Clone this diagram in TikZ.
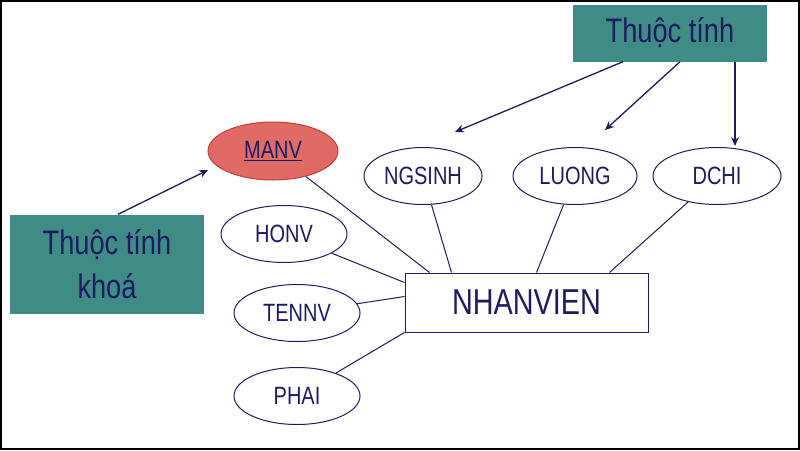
\documentclass[tikz,border=0pt]{standalone}
\usepackage{fontspec}
\setmainfont{Liberation Sans}
\newfontfamily\narrowf[FakeStretch=0.8]{Liberation Sans}
\usetikzlibrary{shapes.geometric,arrows.meta}
\definecolor{navy}{HTML}{1C1C5E}
\definecolor{teal2}{HTML}{3F8C86}
\definecolor{redf}{HTML}{E06A66}
\definecolor{redd}{HTML}{C0403C}
\begin{document}
\begin{tikzpicture}[x=1pt,y=-1pt,
  attr/.style={ellipse,draw=navy,line width=1pt,minimum width=124,minimum height=57,text=navy,font=\narrowf\fontsize{25}{27}\selectfont,inner sep=0},
  tbox/.style={fill=teal2,text=navy,font=\narrowf\fontsize{34}{44}\selectfont,align=center},
  conn/.style={navy,line width=1pt},
  arr/.style={navy,line width=1.3pt,-{Stealth[length=9pt,width=8pt]}}]
\useasboundingbox (0,0) rectangle (800,450);
\draw[black,line width=2pt] (1,1) rectangle (799,449);
\node[tbox,minimum width=194,minimum height=57] (tt) at (670,33) {Thuộc tính};
\node[tbox,minimum width=194,minimum height=99] (tk) at (107,264) {Thuộc tính\\khoá};
\node[attr,fill=redf,draw=redd,minimum width=130,minimum height=58] (manv) at (273,151) {\underline{MANV}};
\node[attr,minimum width=118] (ng) at (423,176) {NGSINH};
\node[attr] (lu) at (575,176) {LUONG};
\node[attr,minimum width=128] (dc) at (717,176) {DCHI};
\node[attr,minimum width=126] (ho) at (284,234) {HONV};
\node[attr,minimum width=126] (te) at (297,313) {TENNV};
\node[attr,minimum width=126] (ph) at (297,396) {PHAI};
\node[draw=navy,line width=1pt,minimum width=243,minimum height=59,text=navy,font=\narrowf\fontsize{36}{40}\selectfont] (nv) at (526.5,302.5) {NHANVIEN};
\coordinate (a1) at (455,132);
\coordinate (a2) at (605,130);
\coordinate (a3) at (735,146);
\coordinate (a4) at (208,170);
\draw[arr] ([xshift=-47]tt.south) -- (a1);
\draw[arr] ([xshift=10]tt.south) -- (a2);
\draw[arr] ([xshift=65]tt.south) -- (a3);
\draw[arr] ([xshift=11]tk.north) -- (a4);
\draw[conn] (manv) -- ([xshift=25]nv.north west);
\draw[conn] (ng) -- ([xshift=47]nv.north west);
\draw[conn] (lu) -- ([xshift=132]nv.north west);
\draw[conn] (dc) -- ([xshift=205]nv.north west);
\draw[conn] (ho) -- ([yshift=-10]nv.north west);
\draw[conn] (te) -- ([yshift=-24]nv.north west);
\draw[conn] (ph) -- (nv.south west);
\end{tikzpicture}
\end{document}
